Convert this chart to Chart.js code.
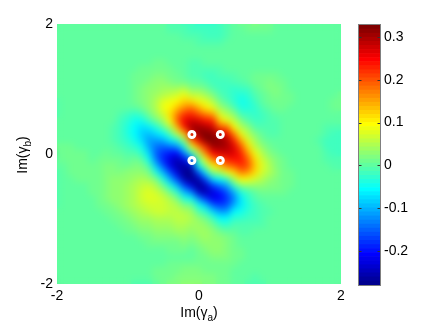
<!DOCTYPE html>
<html>
<head>
<meta charset="utf-8">
<style>
html, body { margin: 0; padding: 0; background: #fff; }
#wrap { position: relative; width: 436px; height: 328px; overflow: hidden; }
#mapa { position: absolute; left: 0; top: 0; }
#barra { position: absolute; left: 345px; top: 0; }
</style>
<script src="https://cdn.jsdelivr.net/npm/chart.js@4/dist/chart.umd.min.js"></script>
</head>
<body>
<div id="wrap">
<canvas id="mapa" width="436" height="328"></canvas>
<canvas id="barra" width="91" height="328"></canvas>
</div>
<script>
// Ejes del mapa
const xCells = [-2,-1.9,-1.8,-1.7,-1.6,-1.5,-1.4,-1.3,-1.2,-1.1,-1,-0.9,-0.8,-0.7,-0.6,-0.5,-0.4,-0.3,-0.2,-0.1,0,0.1,0.2,0.3,0.4,0.5,0.6,0.7,0.8,0.9,1,1.1,1.2,1.3,1.4,1.5,1.6,1.7,1.8,1.9,2];
const yCells = [2,1.9,1.8,1.7,1.6,1.5,1.4,1.3,1.2,1.1,1,0.9,0.8,0.7,0.6,0.5,0.4,0.3,0.2,0.1,0,-0.1,-0.2,-0.3,-0.4,-0.5,-0.6,-0.7,-0.8,-0.9,-1,-1.1,-1.2,-1.3,-1.4,-1.5,-1.6,-1.7,-1.8,-1.9,-2];
const axisTicks = [-2, 0, 2];
const barTicks = [-0.2, -0.1, 0, 0.1, 0.2, 0.3];
const barMin = -0.28;
const barMax = 0.328;
const xTitle = ["Im(\u03B3", "a", ")"];
const yTitle = ["Im(\u03B3", "b", ")"];

// Puntos blancos
const markerX = [-0.1, 0.3, -0.1, 0.3];
const markerY = [0.3, 0.3, -0.1, -0.1];

// Valores, en milesimas. Una lista por columna, de arriba a abajo
const columns = [
[0,0,0,0,0,0,0,0,0,0, 0,-3,-7,-9,-7,-3,0,0,4,6, 4,1,-3,-6,-9,-10,-10,-8,-5,-2, 0,0,0,0,0,0,0,0,0,0,0],
[0,0,0,0,0,0,0,0,0,0, 0,0,-3,-4,-3,0,0,0,2,5, 6,5,3,0,-3,-4,-4,-3,-1,0, 0,0,0,0,0,0,0,0,0,0,0],
[0,0,0,0,0,0,0,0,0,0, 0,0,0,0,0,0,0,0,2,5, 8,10,10,8,4,1,0,0,0,0, 0,0,0,0,0,0,0,0,0,0,0],
[0,0,0,0,0,0,0,0,0,0, 0,0,0,0,0,0,0,0,1,4, 8,11,12,11,8,4,1,0,0,0, 0,0,0,0,0,0,0,0,0,0,0],
[0,0,0,0,0,0,0,0,0,0, 0,0,0,0,0,0,0,0,0,2, 6,9,10,9,7,4,1,0,0,0, 0,0,0,0,0,0,0,0,0,0,0],
[0,0,0,0,0,0,0,0,0,0, 0,0,0,0,0,0,0,0,0,1, 2,4,5,6,7,7,6,4,2,0, 0,0,0,0,0,0,0,0,0,0,0],
[0,0,0,0,0,0,0,0,0,0, 0,0,0,0,0,0,0,0,0,2, 4,7,10,12,13,13,12,10,7,4, 1,0,0,0,0,0,0,0,0,0,0],
[0,0,0,0,0,0,0,0,0,0, 0,0,0,0,0,0,-2,-2,0,3, 7,11,15,18,20,20,18,16,12,8, 3,0,0,0,0,0,0,0,0,0,0],
[0,0,0,0,0,0,0,0,0,0, 0,0,0,0,0,-3,-7,-8,-5,-1, 4,11,17,23,27,28,27,24,19,13, 8,3,0,0,0,0,0,0,0,0,0],
[0,0,0,0,0,0,0,0,0,0, 0,0,0,0,-8,-15,-20,-20,-17,-10, -2,6,14,22,28,32,32,30,25,18, 12,6,2,0,0,0,0,0,0,0,0],
[0,0,0,0,0,0,0,0,2,3, 3,3,2,-3,-20,-30,-40,-40,-30,-20, -8,3,13,24,33,40,42,40,35,27, 19,12,6,2,0,0,0,0,0,0,-2],
[0,0,0,0,0,0,0,2,5,8, 9,9,8,2,-30,-50,-60,-60,-50,-30, -12,5,18,30,40,47,52,52,46,37, 27,18,10,4,1,0,0,0,0,0,-8],
[0,0,0,0,0,0,0,6,10,14, 17,18,18,8,-20,-50,-75,-85,-75,-50, -25,0,18,32,48,58,62,62,56,47, 36,25,16,8,3,0,0,0,0,0,-12],
[0,0,0,0,0,0,4,9,14,20, 25,30,32,28,10,-20,-65,-95,-110,-100, -80,-45,-8,20,42,62,72,72,66,56, 43,31,21,12,6,2,0,0,2,3,-9],
[0,0,0,0,0,0,6,10,16,24, 33,42,50,52,40,10,-35,-80,-115,-140, -155,-135,-85,-35,15,45,64,73,70,62, 50,37,26,16,8,3,0,2,5,6,-2],
[-3,0,0,0,0,0,6,9,15,24, 37,52,75,85,70,35,0,-60,-100,-150, -185,-190,-155,-95,-40,10,48,68,70,62, 51,40,29,18,10,4,0,4,8,10,8],
[-8,-5,0,0,0,0,4,6,11,20, 36,58,85,100,115,100,50,-10,-70,-140, -200,-225,-215,-165,-100,-40,12,45,60,60, 51,41,30,20,12,6,2,5,11,14,15],
[-12,-8,-3,0,0,0,1,2,6,14, 35,65,95,135,175,190,130,60,-35,-120, -205,-255,-260,-230,-175,-95,-30,18,48,60, 54,44,34,23,14,7,3,6,13,18,21],
[-18,-12,-6,0,0,0,-3,-4,-1,8, 45,85,125,165,220,260,240,130,40,-50, -135,-215,-270,-280,-255,-175,-95,-35,15,45, 55,47,38,26,16,9,4,7,15,21,26],
[-22,-17,-10,-4,-1,0,-6,-9,-7,2, 18,55,110,180,225,275,305,255,180,90, -40,-150,-250,-280,-275,-225,-130,-50,5,35, 45,35,25,15,7,0,0,7,15,23,27],
[-25,-20,-13,-7,-2,0,-7,-13,-13,-3, 20,60,90,140,200,270,300,315,260,160, 60,-10,-60,-170,-260,-280,-240,-120,-50,-5, 30,42,40,30,20,12,6,8,15,23,26],
[-27,-22,-16,-9,-3,0,-4,-12,-17,-12, 10,40,75,105,170,240,295,325,320,230, 170,90,20,-65,-170,-250,-255,-185,-90,-30, 5,25,36,35,28,20,12,8,14,20,22],
[-25,-22,-16,-9,-2,0,-2,-9,-15,-17, -5,15,50,90,150,225,280,315,325,300, 250,170,100,20,-80,-180,-230,-220,-155,-75, -20,10,30,33,30,25,18,10,12,16,17],
[-20,-19,-15,-8,0,0,0,-6,-12,-18, -15,-5,10,40,75,120,200,280,310,305, 270,200,120,35,-60,-140,-195,-205,-170,-110, -60,-20,5,25,28,25,20,12,9,10,11],
[-12,-12,-10,-4,0,0,0,-3,-9,-16, -22,-20,-10,20,50,90,190,260,290,295, 280,230,170,90,-30,-110,-160,-185,-165,-110, -60,-25,0,15,20,20,16,10,5,5,5],
[-3,-4,-4,-1,0,0,0,-1,-6,-13, -24,-27,-30,-12,30,60,100,170,225,270, 270,240,190,110,50,-30,-100,-130,-105,-60, -32,-12,-2,5,10,12,10,7,2,1,0],
[6,4,1,0,0,0,0,0,-3,-9, -20,-35,-52,-35,-15,20,50,90,140,200, 230,240,220,170,100,15,-40,-62,-62,-45, -28,-13,-5,0,4,6,5,3,0,0,-3],
[12,9,3,0,0,0,0,0,0,-4, -14,-24,-36,-35,-22,-8,25,50,80,115, 155,190,200,150,85,25,-15,-30,-35,-30, -22,-13,-6,-1,2,2,0,0,0,-2,-7],
[15,11,4,0,0,0,0,3,5,5, 3,-8,-18,-24,-24,-16,-6,18,35,55, 85,115,125,110,70,30,0,-13,-20,-20, -15,-9,-4,-1,0,0,0,0,0,-5,-10],
[14,10,3,0,0,0,0,2,8,13, 10,4,-4,-11,-17,-18,-12,-1,12,30, 50,70,80,70,50,25,8,-4,-10,-13, -11,-7,-3,0,0,0,0,0,0,-4,-8],
[10,6,0,0,0,0,0,3,11,17, 19,14,5,-2,-8,-12,-12,-8,0,10, 22,35,45,45,33,18,8,1,-3,-5, -4,-2,0,0,0,0,0,0,0,0,-2],
[4,2,0,0,0,0,0,0,6,13, 18,18,12,5,-1,-5,-7,-7,-3,3, 9,16,22,25,23,16,9,3,0,0, 0,0,0,0,0,0,0,0,0,0,0],
[0,0,0,0,0,0,0,0,0,6, 11,13,11,6,2,-1,-3,-4,-3,0, 3,7,11,14,14,12,8,4,1,0, 0,0,0,0,0,0,0,0,0,0,0],
[0,0,0,0,0,0,0,0,0,0, 3,5,5,3,1,0,-1,-2,-2,0, 1,2,4,6,7,6,4,2,0,0, 0,0,0,0,0,0,0,0,0,0,0],
[0,0,0,0,0,0,0,0,0,0, 0,2,2,1,0,0,0,0,0,0, 0,0,1,2,2,2,1,0,0,0, 0,0,0,0,0,0,0,0,0,0,0],
[0,0,0,0,0,0,0,0,0,0, 0,0,0,0,0,0,0,0,0,0, 0,0,0,0,0,0,0,0,0,0, 0,0,0,0,0,0,0,0,0,0,0],
[0,0,0,0,0,0,0,0,0,0, 0,0,0,0,0,0,0,0,0,0, 0,0,0,0,0,0,0,0,0,0, 0,0,0,0,0,0,0,0,0,0,0],
[0,0,0,0,0,0,0,0,0,0, 0,0,0,0,0,0,0,-3,-5,-4, -1,0,0,0,0,0,0,0,0,0, 0,0,0,0,0,0,0,0,0,0,0],
[0,0,0,0,0,0,0,0,0,0, 0,0,0,0,0,0,-8,-12,-15,-14, -10,-6,-2,0,0,0,0,0,0,0, 0,0,0,0,0,0,0,0,0,0,0],
[0,0,0,0,0,0,0,0,0,0, 0,3,6,5,2,-4,-12,-18,-22,-21, -16,-10,-6,-3,0,0,0,0,0,0, 0,0,0,0,0,0,0,0,0,0,0],
[0,0,0,0,0,0,0,0,0,0, 0,5,10,8,3,-3,-10,-18,-22,-22, -17,-12,-8,-4,-1,0,0,0,0,0, 0,0,0,0,0,0,0,0,0,0,0]
];

const NIVELES = 64;
const FUENTE = "'Liberation Sans', Arial, sans-serif";

// Paleta jet de 64 niveles
function jet(value) {
    const paso = Math.min(NIVELES - 1, Math.max(0, Math.floor((value - barMin) / (barMax - barMin) * NIVELES)));
    const t = (paso + 1) / NIVELES;
    const canal = d => Math.round(255 * Math.max(0, Math.min(1, 1.5 - Math.abs(4 * t - d))));
    return `rgb(${canal(3)},${canal(2)},${canal(1)})`;
}

// Una celda por cada valor de la tabla
const celdas = [];
columns.forEach((columna, i) => {
    columna.forEach((valor, j) => {
        celdas.push({ x: xCells[i], y: yCells[j], v: valor / 1000 });
    });
});

// Suaviza las celdas: vuelve a pintar el area del mapa con un poco de desenfoque
const suavizado = {
    id: "suavizado",
    afterDatasetDraw(chart, args) {
        if (args.index !== 1) return;
        const ctx = chart.ctx;
        const a = chart.chartArea;
        ctx.save();
        ctx.beginPath();
        ctx.rect(a.left, a.top, a.right - a.left, a.bottom - a.top);
        ctx.clip();
        ctx.filter = "blur(3.5px)";
        ctx.drawImage(chart.canvas, 0, 0);
        ctx.restore();
    }
};

// Escribe Im(gamma) con subindice, horizontal o girado
function tituloEje(ctx, partes, x, y, girado) {
    ctx.save();
    ctx.translate(x, y);
    if (girado) ctx.rotate(-Math.PI / 2);
    ctx.fillStyle = "#000";
    ctx.textBaseline = "alphabetic";
    ctx.textAlign = "left";
    ctx.font = `14px ${FUENTE}`;
    const w1 = ctx.measureText(partes[0]).width;
    const w3 = ctx.measureText(partes[2]).width;
    ctx.font = `10px ${FUENTE}`;
    const w2 = ctx.measureText(partes[1]).width;
    let pos = -(w1 + w2 + w3) / 2;
    ctx.font = `14px ${FUENTE}`;
    ctx.fillText(partes[0], pos, 0);
    pos += w1;
    ctx.font = `10px ${FUENTE}`;
    ctx.fillText(partes[1], pos, 4);
    pos += w2;
    ctx.font = `14px ${FUENTE}`;
    ctx.fillText(partes[2], pos, 0);
    ctx.restore();
}

const titulos = {
    id: "titulos",
    afterDraw(chart) {
        const a = chart.chartArea;
        tituloEje(chart.ctx, xTitle, (a.left + a.right) / 2, 317, false);
        tituloEje(chart.ctx, yTitle, 27, (a.top + a.bottom) / 2 + 1, true);
    }
};

new Chart(document.getElementById("mapa"), {
    type: "scatter",
    data: {
        datasets: [{
            data: markerX.map((x, i) => ({ x: x, y: markerY[i] })),
            pointStyle: "circle",
            pointRadius: 3,
            pointBorderWidth: 3,
            pointBorderColor: "#fff",
            pointBackgroundColor: "rgba(0,0,0,0)"
        }, {
            data: celdas,
            clip: 0,
            pointStyle: "rect",
            pointRadius: 5.8,
            pointBorderWidth: 0,
            pointBackgroundColor: c => jet(c.raw.v)
        }]
    },
    options: {
        responsive: false,
        animation: false,
        devicePixelRatio: 1,
        layout: { padding: { top: 24, right: 95, left: 0, bottom: 0 } },
        plugins: { legend: { display: false }, tooltip: { enabled: false } },
        scales: {
            x: {
                type: "linear",
                min: -2,
                max: 2,
                afterBuildTicks: s => { s.ticks = axisTicks.map(v => ({ value: v })); },
                afterFit: s => { s.height = 44; },
                grid: { display: false, drawTicks: false },
                border: { display: false },
                ticks: { color: "#000", font: { family: FUENTE, size: 14 }, padding: 4, maxRotation: 0 }
            },
            y: {
                type: "linear",
                min: -2,
                max: 2,
                afterBuildTicks: s => { s.ticks = axisTicks.map(v => ({ value: v })); },
                afterFit: s => { s.width = 57; },
                grid: { display: false, drawTicks: false },
                border: { display: false },
                ticks: { color: "#000", font: { family: FUENTE, size: 14 }, padding: 4 }
            }
        }
    },
    plugins: [suavizado, titulos]
});

// Barra de color: un tramo flotante por nivel
const tramos = [];
for (let k = 0; k < NIVELES; k++) {
    const lo = barMin + (barMax - barMin) * k / NIVELES;
    const hi = barMin + (barMax - barMin) * (k + 1) / NIVELES;
    tramos.push({ data: [[lo, hi]], backgroundColor: jet((lo + hi) / 2), borderWidth: 0, barPercentage: 1, categoryPercentage: 1, grouped: false });
}

const marcasBarra = {
    id: "marcasBarra",
    afterDraw(chart) {
        const ctx = chart.ctx;
        const a = chart.chartArea;
        const y = chart.scales.y;
        ctx.save();
        ctx.strokeStyle = "#7f7f7f";
        ctx.lineWidth = 1;
        ctx.strokeRect(Math.round(a.left) - 0.5, Math.round(a.top) - 0.5, Math.round(a.right - a.left) + 1, Math.round(a.bottom - a.top) + 1);
        ctx.strokeStyle = "#333";
        barTicks.forEach(v => {
            const py = Math.round(y.getPixelForValue(v)) + 0.5;
            ctx.beginPath();
            ctx.moveTo(a.left, py);
            ctx.lineTo(a.left + 2.5, py);
            ctx.moveTo(a.right - 2.5, py);
            ctx.lineTo(a.right, py);
            ctx.stroke();
        });
        ctx.restore();
    }
};

new Chart(document.getElementById("barra"), {
    type: "bar",
    data: { labels: [""], datasets: tramos },
    options: {
        responsive: false,
        animation: false,
        devicePixelRatio: 1,
        layout: { padding: { top: 25, left: 14, right: 0, bottom: 43 } },
        plugins: { legend: { display: false }, tooltip: { enabled: false } },
        scales: {
            x: { display: false },
            y: {
                position: "right",
                type: "linear",
                min: barMin,
                max: barMax,
                afterBuildTicks: s => { s.ticks = barTicks.map(v => ({ value: v })); },
                afterFit: s => { s.width = 56; },
                grid: { display: false, drawTicks: false },
                border: { display: false },
                ticks: {
                    color: "#000",
                    font: { family: FUENTE, size: 14 },
                    padding: 4,
                    callback: v => String(v)
                }
            }
        }
    },
    plugins: [marcasBarra]
});
</script>
</body>
</html>
